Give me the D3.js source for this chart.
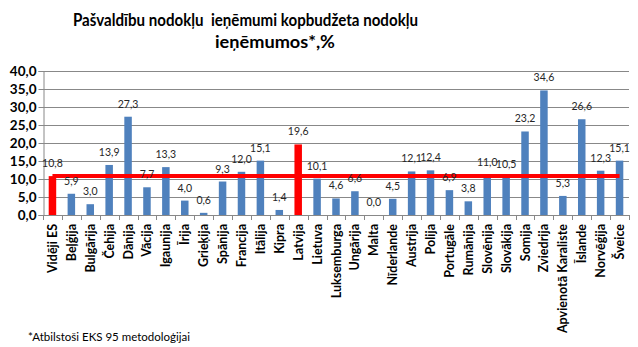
<!DOCTYPE html>
<html><head><meta charset="utf-8">
<script src="https://cdn.jsdelivr.net/npm/d3@7"></script>
<style>body{margin:0;background:#fff}svg{display:block}</style>
</head><body>
<svg id="c" width="638" height="347"></svg>
<script>
const categories = ["Vidēji ES","Beļģija","Bulgārija","Čehija","Dānija","Vācija","Igaunija","Īrija","Grieķija","Spānija","Francija","Itālija","Kipra","Latvija","Lietuva","Luksemburga","Ungārija","Malta","Nīderlande","Austrija","Polija","Portugāle","Rumānija","Slovēnija","Slovākija","Somija","Zviedrija","Apvienotā Karaliste","Īslande","Norvēģija","Šveice"];
const values = [10.8,5.9,3.0,13.9,27.3,7.7,13.3,4.0,0.6,9.3,12.0,15.1,1.4,19.6,10.1,4.6,6.6,0.0,4.5,12.1,12.4,6.9,3.8,11.0,10.5,23.2,34.6,5.3,26.6,12.3,15.1];
const highlighted = ["Vidēji ES","Latvija"];
const esAverage = 10.8;
const yTicks = [0,5,10,15,20,25,30,35,40];
const titleLines = ["Pašvaldību nodokļu  ieņēmumi kopbudžeta nodokļu","ieņēmumos*,%"];
const footnote = "*Atbilstoši EKS 95 metodoloģijai";

(function(){
const svg = d3.select("#c");
const font = "Lato, 'Liberation Sans', sans-serif";
const mL = 43, mR = 629, mT = 71, mB = 215;
const x = d3.scaleBand().domain(categories).range([mL, mR]).padding(0);
const y = d3.scaleLinear().domain([0, 40]).range([mB, mT]);
const bw = 7.5;

svg.append("g").selectAll("line").data(yTicks).join("line")
  .attr("x1", mL).attr("x2", mR)
  .attr("y1", d => Math.round(y(d)) + 0.5).attr("y2", d => Math.round(y(d)) + 0.5)
  .attr("stroke", "#888").attr("stroke-width", 1);

const fmt = d => d.toFixed(1).replace(".", ",");
const ya = svg.append("g").attr("transform", `translate(${mL + 0.5},0)`)
  .call(d3.axisLeft(y).tickValues(yTicks).tickFormat(fmt).tickSize(5).tickPadding(2));
ya.select(".domain").attr("stroke", "#888");
ya.selectAll(".tick line").attr("stroke", "#888");
ya.selectAll("text").attr("font-family", font).attr("font-weight", "bold").attr("font-size", 13.5).attr("fill", "#000");

svg.append("g").selectAll("rect").data(values).join("rect")
  .attr("x", (d, i) => x(categories[i]) + x.bandwidth()/2 - bw/2)
  .attr("width", bw)
  .attr("y", d => y(d))
  .attr("height", d => y(0) - y(d))
  .attr("fill", (d, i) => highlighted.includes(categories[i]) ? "#ff0000" : "#4f81bd");

const boundaries = categories.map(c => x(c)).concat([mR]);
svg.append("g").selectAll("line").data(boundaries).join("line")
  .attr("x1", d => Math.round(d) + 0.5).attr("x2", d => Math.round(d) + 0.5)
  .attr("y1", mB).attr("y2", mB + 5)
  .attr("stroke", "#888");

svg.append("g").selectAll("text").data(categories).join("text")
  .attr("transform", d => `translate(${x(d) + x.bandwidth()/2 + 4.5},${mB + 9}) rotate(-90)`)
  .attr("text-anchor", "end")
  .attr("font-family", font).attr("font-weight", "bold").attr("font-size", 12.5)
  .attr("fill", "#000")
  .text(d => d);

const line = d3.line().x(d => x(d) + x.bandwidth()/2).y(() => y(esAverage));
svg.append("path").datum([categories[0], categories[categories.length-1]])
  .attr("d", line).attr("fill", "none").attr("stroke", "#ff0000").attr("stroke-width", 4);

svg.append("g").selectAll("text").data(values).join("text")
  .attr("x", (d, i) => x(categories[i]) + x.bandwidth()/2)
  .attr("y", d => y(d) - 9)
  .attr("text-anchor", "middle")
  .attr("font-family", font).attr("font-size", 10.5).attr("fill", "#262626")
  .text(d => fmt(d));

svg.append("text").attr("x", 73).attr("y", 26)
  .attr("font-family", font).attr("font-weight", "bold").attr("font-size", 16.5)
  .attr("textLength", 345).attr("lengthAdjust", "spacingAndGlyphs")
  .style("white-space","pre").text(titleLines[0]);
svg.append("text").attr("x", 215).attr("y", 48)
  .attr("font-family", font).attr("font-weight", "bold").attr("font-size", 16.5)
  .attr("textLength", 120).attr("lengthAdjust", "spacingAndGlyphs")
  .text(titleLines[1]);

svg.append("text").attr("x", 28).attr("y", 341)
  .attr("font-family", font).attr("font-size", 11.5).attr("fill", "#000")
  .text(footnote);
})();
</script>
</body></html>
